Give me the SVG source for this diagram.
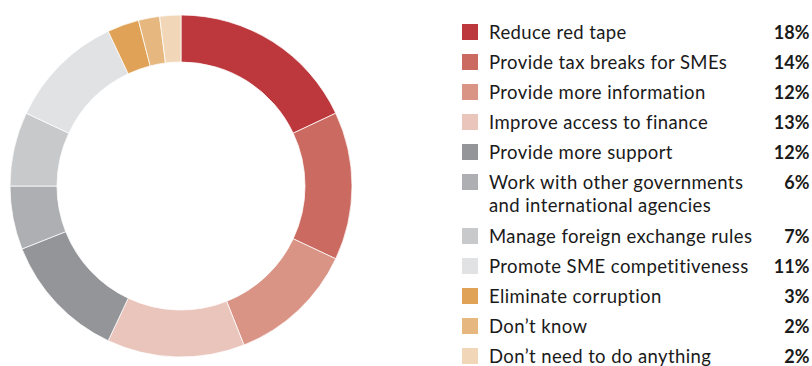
<svg xmlns="http://www.w3.org/2000/svg" width="812" height="366" viewBox="0 0 812 366">
<style>
.seg{stroke:#fff;stroke-width:0.75}
.lbl{font-family:Lato,"Noto Sans","Liberation Sans",sans-serif;font-size:18.5px;letter-spacing:0.4px;fill:#1a1a1a}
.pct{font-family:Lato,"Noto Sans","Liberation Sans",sans-serif;font-size:18px;font-weight:bold;fill:#1a1a1a;text-anchor:end}
</style>
<rect width="812" height="366" fill="#fff"/>
<g id="donut">
<path id="seg-red-tape" class="seg" fill="#BD383C" d="M181,15 A171,171 0 0 1 335.73,113.19 L293.20,133.20 A124,124 0 0 0 181,62 Z"/>
<path id="seg-tax" class="seg" fill="#CB6A60" d="M335.73,113.19 A171,171 0 0 1 335.73,258.81 L293.20,238.80 A124,124 0 0 0 293.20,133.20 Z"/>
<path id="seg-info" class="seg" fill="#D99486" d="M335.73,258.81 A171,171 0 0 1 243.95,344.99 L226.65,301.29 A124,124 0 0 0 293.20,238.80 Z"/>
<path id="seg-finance" class="seg" fill="#EAC5BB" d="M243.95,344.99 A171,171 0 0 1 108.19,340.73 L128.20,298.20 A124,124 0 0 0 226.65,301.29 Z"/>
<path id="seg-support" class="seg" fill="#949599" d="M108.19,340.73 A171,171 0 0 1 22.01,248.95 L65.71,231.65 A124,124 0 0 0 128.20,298.20 Z"/>
<path id="seg-govts" class="seg" fill="#AEAFB2" d="M22.01,248.95 A171,171 0 0 1 10,186 L57,186 A124,124 0 0 0 65.71,231.65 Z"/>
<path id="seg-fx" class="seg" fill="#C8C9CB" d="M10,186 A171,171 0 0 1 26.27,113.19 L68.80,133.20 A124,124 0 0 0 57,186 Z"/>
<path id="seg-competitiveness" class="seg" fill="#E1E2E4" d="M26.27,113.19 A171,171 0 0 1 108.19,31.27 L128.20,73.80 A124,124 0 0 0 68.80,133.20 Z"/>
<path id="seg-corruption" class="seg" fill="#E0A256" d="M108.19,31.27 A171,171 0 0 1 138.47,20.37 L150.16,65.90 A124,124 0 0 0 128.20,73.80 Z"/>
<path id="seg-dont-know" class="seg" fill="#E6B77E" d="M138.47,20.37 A171,171 0 0 1 159.57,16.35 L165.46,62.98 A124,124 0 0 0 150.16,65.90 Z"/>
<path id="seg-dont-need" class="seg" fill="#F1D7B8" d="M159.57,16.35 A171,171 0 0 1 181,15 L181,62 A124,124 0 0 0 165.46,62.98 Z"/>
</g>
<g id="legend">
<g id="leg-red-tape"><rect x="462" y="24" width="16" height="16" fill="#BD383C"/><text class="lbl" x="489" y="39">Reduce red tape</text><text class="pct" x="809.5" y="39">18%</text></g>
<g id="leg-tax"><rect x="462" y="54" width="16" height="16" fill="#CB6A60"/><text class="lbl" x="489" y="69">Provide tax breaks for SMEs</text><text class="pct" x="809.5" y="69">14%</text></g>
<g id="leg-info"><rect x="462" y="84" width="16" height="16" fill="#D99486"/><text class="lbl" x="489" y="99">Provide more information</text><text class="pct" x="809.5" y="99">12%</text></g>
<g id="leg-finance"><rect x="462" y="114" width="16" height="16" fill="#EAC5BB"/><text class="lbl" x="489" y="129">Improve access to finance</text><text class="pct" x="809.5" y="129">13%</text></g>
<g id="leg-support"><rect x="462" y="144" width="16" height="16" fill="#949599"/><text class="lbl" x="489" y="159">Provide more support</text><text class="pct" x="809.5" y="159">12%</text></g>
<g id="leg-govts"><rect x="462" y="174" width="16" height="16" fill="#AEAFB2"/><text class="lbl" x="489" y="189">Work with other governments</text><text class="lbl" x="489" y="212">and international agencies</text><text class="pct" x="809.5" y="189">6%</text></g>
<g id="leg-fx"><rect x="462" y="228" width="16" height="16" fill="#C8C9CB"/><text class="lbl" x="489" y="243">Manage foreign exchange rules</text><text class="pct" x="809.5" y="243">7%</text></g>
<g id="leg-competitiveness"><rect x="462" y="258" width="16" height="16" fill="#E1E2E4"/><text class="lbl" x="489" y="273">Promote SME competitiveness</text><text class="pct" x="809.5" y="273">11%</text></g>
<g id="leg-corruption"><rect x="462" y="288" width="16" height="16" fill="#E0A256"/><text class="lbl" x="489" y="303">Eliminate corruption</text><text class="pct" x="809.5" y="303">3%</text></g>
<g id="leg-dont-know"><rect x="462" y="318" width="16" height="16" fill="#E6B77E"/><text class="lbl" x="489" y="333">Don’t know</text><text class="pct" x="809.5" y="333">2%</text></g>
<g id="leg-dont-need"><rect x="462" y="348" width="16" height="16" fill="#F1D7B8"/><text class="lbl" x="489" y="363">Don’t need to do anything</text><text class="pct" x="809.5" y="363">2%</text></g>
</g>
</svg>
